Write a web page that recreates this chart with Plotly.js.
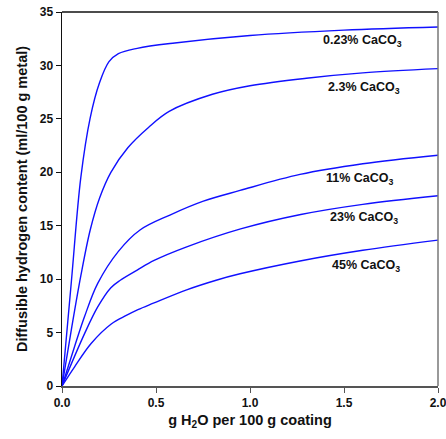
<!DOCTYPE html>
<html>
<head>
<meta charset="utf-8">
<script src="https://cdn.plot.ly/plotly-3.0.1.min.js"></script>
<style>html,body{margin:0;padding:0;background:#fff;}#chart{width:446px;height:439px;}</style>
</head>
<body>
<div id="chart"></div>
<script>
// Series: 0.23% CaCO3
const x023 = [0, 0.05, 0.1, 0.15, 0.2, 0.25, 0.3, 0.4, 0.6, 1.0, 1.5, 2.0];
const y023 = [0, 9.8, 19.5, 25.1, 28.4, 30.35, 31.1, 31.6, 32.1, 32.8, 33.3, 33.6];
// Series: 2.3% CaCO3
const x23 = [0, 0.05, 0.1, 0.15, 0.2, 0.26, 0.35, 0.46, 0.57, 0.8, 1.0, 1.3, 1.6, 2.0];
const y23 = [0, 5.3, 10.3, 14.6, 17.6, 20.0, 22.3, 24.2, 25.7, 27.3, 28.1, 28.8, 29.3, 29.7];
// Series: 11% CaCO3
const x11 = [0, 0.067, 0.12, 0.19, 0.3, 0.415, 0.574, 0.752, 0.947, 1.266, 1.6, 2.0];
const y11 = [0, 3.7, 6.5, 9.6, 12.6, 14.6, 16.0, 17.3, 18.3, 19.8, 20.8, 21.6];
// Series: 23% CaCO3
const x230 = [0, 0.12, 0.19, 0.26, 0.31, 0.4, 0.49, 0.66, 0.95, 1.27, 1.6, 2.0];
const y230 = [0, 4.9, 7.4, 9.2, 9.9, 10.85, 11.75, 13.0, 14.7, 16.05, 17.0, 17.8];
// Series: 45% CaCO3
const x45 = [0, 0.067, 0.156, 0.262, 0.342, 0.404, 0.486, 0.663, 0.82, 0.947, 1.266, 1.6, 2.0];
const y45 = [0, 1.8, 4.0, 5.8, 6.6, 7.15, 7.75, 9.0, 9.9, 10.5, 11.7, 12.7, 13.65];

// Labels
const labelText = ['0.23% CaCO<sub>3</sub>', '2.3% CaCO<sub>3</sub>', '11% CaCO<sub>3</sub>', '23% CaCO<sub>3</sub>', '45% CaCO<sub>3</sub>'];
const labelX = [1.596, 1.606, 1.585, 1.606, 1.617];
const labelY = [32.3, 27.9, 19.4, 15.7, 11.2];

const xTicks = [0, 0.5, 1.0, 1.5, 2.0];
const xTickText = ['0.0', '0.5', '1.0', '1.5', '2.0'];
const yTicks = [0, 5, 10, 15, 20, 25, 30, 35];

const series = [[x023, y023], [x23, y23], [x11, y11], [x230, y230], [x45, y45]];
const traces = series.map(s => ({
  x: s[0], y: s[1], type: 'scatter', mode: 'lines',
  line: {color: '#1010ff', width: 1.4, shape: 'spline', smoothing: 1},
  hoverinfo: 'skip', showlegend: false
}));

const fontFam = 'Liberation Sans, Arial, sans-serif';
const annotations = labelText.map((t, i) => ({
  x: labelX[i], y: labelY[i], xref: 'x', yref: 'y', text: '<b>' + t + '</b>',
  showarrow: false, font: {family: fontFam, size: 12.5, color: '#111'}
}));

const layout = {
  width: 446, height: 439,
  margin: {l: 62, r: 8, t: 12, b: 53},
  paper_bgcolor: '#fff', plot_bgcolor: '#fff',
  showlegend: false,
  font: {family: fontFam, color: '#111'},
  xaxis: {
    range: [0, 2.0], tickvals: xTicks, ticktext: xTickText,
    ticks: 'outside', ticklen: 5, tickwidth: 1, tickcolor: '#555',
    showline: true, linecolor: '#555', linewidth: 1.5,
    showgrid: false, zeroline: false, ticklabeloverflow: 'allow',
    tickfont: {family: fontFam, size: 12, color: '#111', weight: 'bold'},
    title: {text: '<b>g H<sub>2</sub>O per 100 g coating</b>', font: {family: fontFam, size: 14.5, color: '#111'}, standoff: 6}
  },
  yaxis: {
    range: [0, 35], tickvals: yTicks,
    ticks: 'outside', ticklen: 5, tickwidth: 1, tickcolor: '#111',
    showline: true, linecolor: '#111', linewidth: 1.5,
    showgrid: false, zeroline: false,
    tickfont: {family: fontFam, size: 12, color: '#111', weight: 'bold'},
    title: {text: '<b>Diffusible hydrogen content (ml/100 g metal)</b>', font: {family: fontFam, size: 14.5, color: '#111'}, standoff: 8}
  },
  shapes: [
    {type: 'line', xref: 'paper', yref: 'paper', x0: 0, x1: 1, y0: 1, y1: 1, line: {color: '#111', width: 1.5}},
    {type: 'line', xref: 'paper', yref: 'paper', x0: 1, x1: 1, y0: 0, y1: 1, line: {color: '#777', width: 1.5}}
  ],
  annotations: annotations
};

Plotly.newPlot('chart', traces, layout, {displayModeBar: false, staticPlot: true});
</script>
</body>
</html>
